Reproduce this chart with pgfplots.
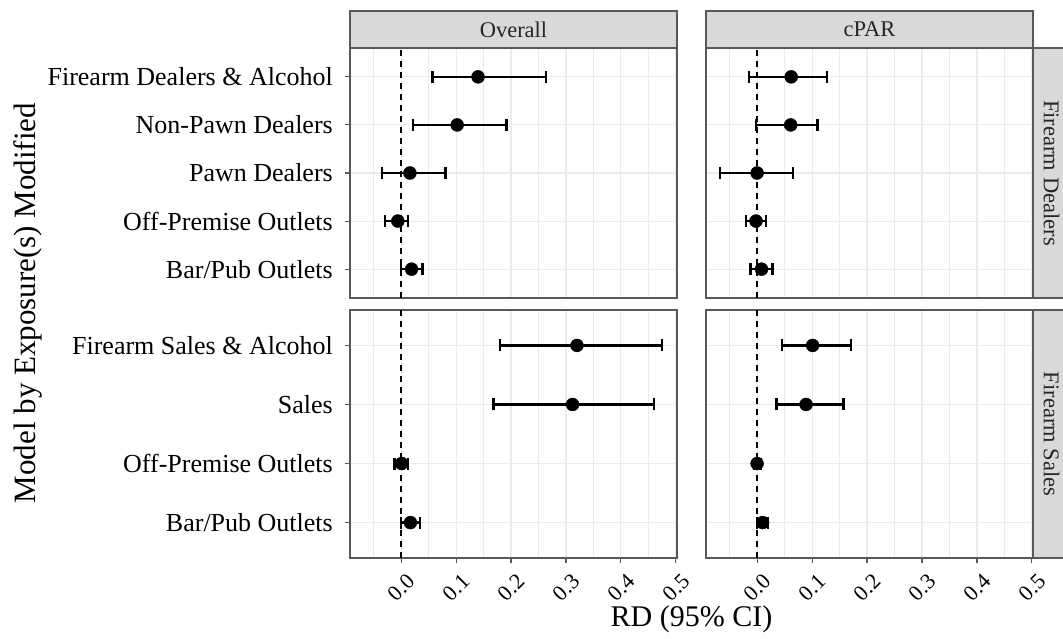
\documentclass[border=0pt]{standalone}
\usepackage{fontspec}
\setmainfont{Liberation Serif}
\usepackage{pgfplots}
\pgfplotsset{compat=1.18}
\usepackage{pgfplotstable}

\definecolor{grey92}{gray}{0.92}
\definecolor{grey85}{gray}{0.85}
\definecolor{grey20}{gray}{0.35}
\definecolor{grey10}{gray}{0.15}

\pgfplotstableread{
pos est lo hi
5 0.140 0.057 0.264
4 0.102 0.021 0.192
3 0.016 -0.035 0.081
2 -0.006 -0.029 0.013
1 0.019 0.000 0.039
}\TLdata
\pgfplotstableread{
pos est lo hi
5 0.062 -0.015 0.127
4 0.061 -0.002 0.110
3 0.000 -0.067 0.065
2 -0.002 -0.020 0.016
1 0.008 -0.012 0.028
}\TRdata
\pgfplotstableread{
pos est lo hi
4 0.320 0.180 0.475
3 0.312 0.168 0.460
2 0.001 -0.012 0.012
1 0.017 0.000 0.035
}\BLdata
\pgfplotstableread{
pos est lo hi
4 0.101 0.045 0.171
3 0.089 0.035 0.157
2 0.000 -0.006 0.006
1 0.010 0.000 0.020
}\BRdata

\pgfplotsset{
  panel/.style={
    scale only axis, width=327pt, anchor=south west,
    xmin=-0.093, xmax=0.502,
    xtick={0,0.1,0.2,0.3,0.4,0.5},
    minor xtick={-0.05,0.05,0.15,0.25,0.35,0.45},
    ymin=0.4,
    xtick pos=bottom, ytick pos=left,
    grid=both,
    major grid style={draw=grey92, line width=1.1pt},
    minor grid style={draw=grey92, line width=0.6pt},
    axis line style={draw=grey20, line width=1.2pt},
    tick style={draw=grey20, line width=1.1pt},
    tick align=outside, major tick length=5pt, minor tick length=0pt,
    axis background/.style={fill=white},
    /pgf/number format/assume math mode=true,
    xticklabel style={/pgf/number format/.cd, fixed, fixed zerofill, precision=1, /tikz/.cd,
      font=\fontsize{22}{22}\selectfont, rotate=45, anchor=north east, inner sep=0pt, xshift=-3pt, yshift=-10pt},
    yticklabel style={font=\fontsize{26}{26}\selectfont, anchor=east, inner sep=0pt, xshift=-12pt},
  },
  pts/.style={only marks, mark=*, mark size=6.5pt, black, mark options={fill=black, draw=black},
    error bars/.cd, x dir=both, x explicit,
    error mark=|,
    error bar style={line width=2.3pt, black},
    error mark options={line width=2.3pt, mark size=6pt, black}},
  vref/.style={black, line width=1.6pt, dash pattern=on 6pt off 5pt, forget plot},
}

\begin{document}
\begin{tikzpicture}
\path[use as bounding box] (0,0) rectangle (1063pt,638pt);

% Top left
\begin{axis}[panel, at={(350pt,340pt)}, height=250pt, ymax=5.6,
  ytick={1,2,3,4,5},
  yticklabels={Bar/Pub Outlets, Off-Premise Outlets, Pawn Dealers, Non-Pawn Dealers, Firearm Dealers \& Alcohol},
  xticklabels={}, xtick style={draw=none}]
\addplot[vref] coordinates {(0,0.4) (0,5.6)};
\addplot[pts] table[x=est, y=pos, x error plus expr=\thisrow{hi}-\thisrow{est}, x error minus expr=\thisrow{est}-\thisrow{lo}] {\TLdata};
\end{axis}

% Top right
\begin{axis}[panel, at={(706pt,340pt)}, height=250pt, ymax=5.6,
  ytick={1,2,3,4,5}, yticklabels={}, ytick style={draw=none},
  xticklabels={}, xtick style={draw=none}]
\addplot[vref] coordinates {(0,0.4) (0,5.6)};
\addplot[pts] table[x=est, y=pos, x error plus expr=\thisrow{hi}-\thisrow{est}, x error minus expr=\thisrow{est}-\thisrow{lo}] {\TRdata};
\end{axis}

% Bottom left
\begin{axis}[panel, at={(350pt,80pt)}, height=248pt, ymax=4.6,
  ytick={1,2,3,4}, xtick style={draw=grey20, line width=1.1pt},
  yticklabels={Bar/Pub Outlets, Off-Premise Outlets, Sales, Firearm Sales \& Alcohol}]
\addplot[vref] coordinates {(0,0.4) (0,4.6)};
\addplot[pts] table[x=est, y=pos, x error plus expr=\thisrow{hi}-\thisrow{est}, x error minus expr=\thisrow{est}-\thisrow{lo}] {\BLdata};
\end{axis}

% Bottom right
\begin{axis}[panel, at={(706pt,80pt)}, height=248pt, ymax=4.6,
  ytick={1,2,3,4}, yticklabels={}, ytick style={draw=none},
  xtick style={draw=grey20, line width=1.1pt}]
\addplot[vref] coordinates {(0,0.4) (0,4.6)};
\addplot[pts] table[x=est, y=pos, x error plus expr=\thisrow{hi}-\thisrow{est}, x error minus expr=\thisrow{est}-\thisrow{lo}] {\BRdata};
\end{axis}

% strips
\draw[fill=grey85, draw=grey20, line width=1.2pt] (350pt,590pt) rectangle (677pt,627pt);
\draw[fill=grey85, draw=grey20, line width=1.2pt] (706pt,590pt) rectangle (1033pt,627pt);
\node[text=grey10, font=\fontsize{22.5}{22.5}\selectfont] at (513.5pt,608.5pt) {Overall};
\node[text=grey10, font=\fontsize{22.5}{22.5}\selectfont] at (869.5pt,608.5pt) {cPAR};
\draw[fill=grey85, draw=grey20, line width=1.2pt] (1033pt,340pt) rectangle (1075pt,590pt);
\draw[fill=grey85, draw=grey20, line width=1.2pt] (1033pt,80pt) rectangle (1075pt,328pt);
\node[text=grey10, font=\fontsize{22.5}{22.5}\selectfont, rotate=-90] at (1051.5pt,465pt) {Firearm Dealers};
\node[text=grey10, font=\fontsize{22.5}{22.5}\selectfont, rotate=-90] at (1051.5pt,204pt) {Firearm Sales};

% axis titles
\node[font=\fontsize{30}{30}\selectfont] at (691.5pt,19pt) {RD (95\% CI)};
\node[font=\fontsize{31}{31}\selectfont, rotate=90] at (28pt,335pt) {Model by Exposure(s) Modified};
\end{tikzpicture}
\end{document}
